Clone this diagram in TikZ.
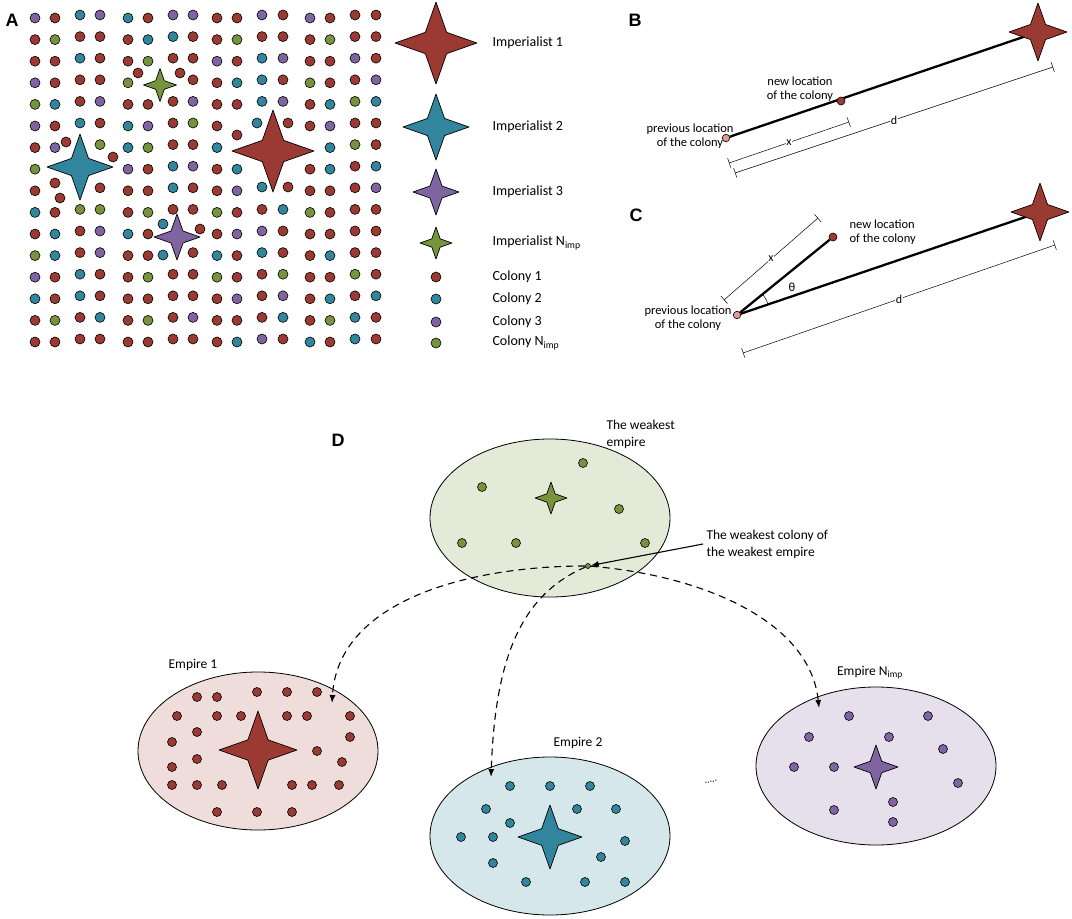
\documentclass[tikz,border=0pt]{standalone}
\usepackage{fontspec}
\setmainfont{Carlito}
\newfontfamily\panelfont{Liberation Sans}
\usetikzlibrary{arrows.meta,shapes.geometric}

\definecolor{colR}{RGB}{155,58,50}
\definecolor{colT}{RGB}{49,133,156}
\definecolor{colP}{RGB}{128,100,162}
\definecolor{colG}{RGB}{119,147,60}
\definecolor{colprev}{RGB}{228,154,148}
\definecolor{fillR}{RGB}{238,221,219}
\definecolor{fillT}{RGB}{214,231,236}
\definecolor{fillP}{RGB}{229,224,236}
\definecolor{fillG}{RGB}{227,235,216}

% four-pointed star: centre x, centre y, half size, colour
\newcommand{\impstar}[4]{%
  \filldraw[fill=#4, draw=black, line width=0.7pt, line join=round, shift={(#1,#2)}]
    (#3,0) .. controls (0.6*#3,0.14*#3) .. (0.26*#3,0.26*#3)
    .. controls (0.14*#3,0.6*#3) .. (0,#3)
    .. controls (-0.14*#3,0.6*#3) .. (-0.26*#3,0.26*#3)
    .. controls (-0.6*#3,0.14*#3) .. (-#3,0)
    .. controls (-0.6*#3,-0.14*#3) .. (-0.26*#3,-0.26*#3)
    .. controls (-0.14*#3,-0.6*#3) .. (0,-#3)
    .. controls (0.14*#3,-0.6*#3) .. (0.26*#3,-0.26*#3)
    .. controls (0.6*#3,-0.14*#3) .. cycle;}
% colony dot: [radius] x, y, colour
\newcommand{\colony}[4][5]{\filldraw[fill=#4, draw=black, line width=0.6pt] (#2,#3) circle (#1);}

\tikzset{
  lbl/.style={font=\fontsize{14}{17}\selectfont, anchor=west},
  note/.style={font=\fontsize{12.5}{14.5}\selectfont, align=center},
  dnote/.style={font=\fontsize{13.5}{17}\selectfont, align=left},
  panel/.style={font=\panelfont\bfseries\fontsize{18}{20}\selectfont},
  track/.style={line width=2.3pt},
  dim/.style={line width=0.5pt, {Bar[width=10pt]}-{Bar[width=10pt]}},
  dimlbl/.style={fill=white, inner sep=0.6pt, font=\fontsize{12}{13}\selectfont},
  move/.style={dash pattern=on 7pt off 5pt, line width=1.1pt, -{Latex[length=8pt,width=6pt]}},
  empire/.style={ellipse, draw, line width=0.8pt, minimum width=240pt, minimum height=158pt, inner sep=0},
  spot/.style={circle, draw, line width=0.6pt, inner sep=0, minimum size=8pt}
}

\begin{document}
\begin{tikzpicture}[x=1pt, y=-1pt]
  \useasboundingbox (0,0) rectangle (1072,919);

  % panel A
  \node[panel] (pa) at (12,20) {A};
  \foreach \row [count=\j] in {
    {P,R,T,P,T,R,P,P,R,R,P,R,P,R,R,R},
    {R,G,R,R,R,T,T,R,R,G,R,R,R,G,R,R},
    {R,R,T,R,R,G,R,R,P,R,T,P,R,R,P,R},
    {P,R,R,R,G,-,-,R,R,T,T,R,G,R,R,P},
    {G,T,R,P,R,R,R,P,R,R,T,P,R,T,G,T},
    {P,R,T,R,T,P,R,G,R,-,-,-,R,P,R,R},
    {R,P,-,G,T,G,R,R,T,-,-,-,-,T,G,R},
    {G,-,-,-,P,R,T,P,R,T,-,-,R,T,R,T},
    {R,-,-,R,R,R,T,R,R,P,-,-,R,R,R,P},
    {T,R,G,G,R,G,R,R,G,R,R,T,G,R,R,R},
    {R,T,R,P,T,R,-,-,R,P,P,R,R,R,R,R},
    {G,T,R,P,R,R,-,R,T,R,T,R,R,T,R,R},
    {P,R,T,R,R,G,R,R,G,R,R,G,R,R,G,R},
    {T,R,T,R,R,R,R,R,R,P,R,P,R,T,R,T},
    {R,G,R,T,R,G,R,P,R,R,R,T,R,G,T,R},
    {R,R,R,R,R,R,R,R,R,T,P,R,T,R,T,R}}
    \foreach \c [count=\i] in \row {
      \pgfmathsetmacro{\xx}{{35,55,80,100,128,148,173,193,217,237,262,283,310,330,355,376}[\i-1]}
      \pgfmathsetmacro{\yy}{18+21.6*(\j-1)-3*mod(floor((\i-1)/2),2)}
      \if\c-\else\colony{\xx}{\yy}{col\c}\fi
    };
  \foreach \x/\y/\c in {138/73/R, 180/73/R, 237/135/R, 257/123/T, 288/123/R,
      66/142/R, 113/157/R, 55/183/R, 60/198/R, 262/187/T, 288/187/R,
      163/224/T, 200/229/R, 163/255/T}
    \colony{\x}{\y}{col\c};
  \impstar{273}{151}{41}{colR}
  \impstar{80}{167}{33}{colT}
  \impstar{160}{85}{16.5}{colG}
  \impstar{177}{237}{23}{colP}

  % legend
  \impstar{436}{43}{41}{colR}
  \impstar{436}{127}{33}{colT}
  \impstar{436}{192}{23}{colP}
  \impstar{436}{243}{16}{colG}
  \colony{436}{277}{colR}
  \colony{436}{299}{colT}
  \colony{436}{322}{colP}
  \colony{436}{343}{colG}
  \node[lbl] (leg1) at (489,43) {Imperialist 1};
  \node[lbl] (leg2) at (489,127) {Imperialist 2};
  \node[lbl] (leg3) at (489,192) {Imperialist 3};
  \node[lbl] (leg4) at (489,243) {Imperialist N\textsubscript{imp}};
  \node[lbl] (leg5) at (489,277) {Colony 1};
  \node[lbl] (leg6) at (489,299) {Colony 2};
  \node[lbl] (leg7) at (489,322) {Colony 3};
  \node[lbl] (leg8) at (489,343) {Colony N\textsubscript{imp}};

  % panel B
  \node[panel] (pb) at (635,20) {B};
  \coordinate (bstar) at (1038,32);
  \node[spot, fill=colprev, minimum size=7.5pt] (bprev) at (726,138) {};
  \draw[track] (bprev) -- (bstar);
  \impstar{1038}{32}{29}{colR}
  \node[spot, fill=colR] (bnew) at (841,101) {};
  \node[note] (bnewlbl) at (800,89) {new location\\of the colony};
  \node[note] (bprevlbl) at (690,136) {previous location\\of the colony};
  \coordinate (bx1) at (729,163);
  \coordinate (bx2) at (849,122);
  \coordinate (bd1) at (735,173);
  \coordinate (bd2) at (1053,67);
  \draw[dim] (bx1) -- node[dimlbl] {x} (bx2);
  \draw[dim] (bd1) -- node[dimlbl] {d} (bd2);

  % panel C
  \node[panel] (pc) at (636,215) {C};
  \coordinate (cstar) at (1040,212);
  \node[spot, fill=colprev, minimum size=7.5pt] (cprev) at (737,315) {};
  \node[spot, fill=colR] (cnew) at (833,237) {};
  \draw[track] (cprev) -- (cstar);
  \draw[track] (cprev) -- (cnew);
  \impstar{1040}{212}{29}{colR}
  \draw[line width=0.5pt] (cprev.center) ++(18.8:33pt) arc[start angle=18.8, end angle=39.1, radius=33pt];
  \node[note] (theta) at (792,287) {θ};
  \node[note, align=left, anchor=west] (cnewlbl) at (846,232) {new location\\of the colony};
  \node[note] (cprevlbl) at (688,318) {previous location\\of the colony};
  \coordinate (cx1) at (724,300);
  \coordinate (cx2) at (818,218);
  \coordinate (cd1) at (743,353);
  \coordinate (cd2) at (1055,245);
  \draw[dim] (cx1) -- node[dimlbl] {x} (cx2);
  \draw[dim] (cd1) -- node[dimlbl] {d} (cd2);

  % panel D
  \node[panel] (pd) at (338,440) {D};
  \node[empire, fill=fillG] (weak) at (550,518) {};
  \node[empire, fill=fillR] (emp1) at (258,751) {};
  \node[empire, fill=fillT] (emp2) at (550,836) {};
  \node[empire, fill=fillP] (empn) at (876,766) {};

  \foreach \x/\y in {583/463, 482/487, 619/509, 462/543, 516/543, 645/543}
    \colony[4.5]{\x}{\y}{colG};
  \impstar{551}{498}{16}{colG}

  \foreach \x/\y in {197/697, 217/697, 257/692, 287/692, 317/692,
      177/716, 217/716, 241/716, 287/716, 307/716, 350/716,
      197/732, 350/737, 172/742, 317/751, 197/759, 342/762, 172/767,
      172/785, 197/785, 222/785, 292/785, 312/785, 339/785,
      217/812, 257/812, 292/812}
    \colony[4.5]{\x}{\y}{colR};
  \impstar{258}{750}{39}{colR}

  \foreach \x/\y in {510/786, 550/786, 590/786, 486/809, 577/809, 616/809,
      510/823, 461/837, 493/837, 625/841, 601/857, 493/863,
      526/882, 585/882, 625/882}
    \colony[4.5]{\x}{\y}{colT};
  \impstar{550}{837}{32}{colT}

  \foreach \x/\y in {849/716, 928/716, 809/737, 889/737, 943/749,
      794/767, 834/767, 958/783, 893/802, 834/810, 893/822}
    \colony[4.5]{\x}{\y}{colP};
  \impstar{876}{767}{22}{colP}

  \node[dnote] (weaklbl) at (603,434) [anchor=west] {The weakest\\empire};
  \node[dnote] (emp1lbl) at (193,665) {Empire 1};
  \node[dnote] (emp2lbl) at (578,743) {Empire 2};
  \node[dnote] (empnlbl) at (870,673) {Empire N\textsubscript{imp}};
  \node[font=\fontsize{10}{10}\selectfont, rotate=12] (etc) at (711,782) {.....};

  \node[spot, fill=colG, minimum size=5pt] (wc) at (588,566) {};
  \node[dnote] (wclbl) at (703,544) [anchor=west] {The weakest colony of\\the weakest empire};
  \draw[line width=1.1pt, -{Latex[length=8pt,width=6pt]}] (wclbl.west) -- (wc);

  \coordinate (e1in) at (332,703);
  \coordinate (e2in) at (491,777);
  \coordinate (enin) at (819,708);
  \draw[move] (wc) .. controls (470,566) and (338,600) .. (e1in);
  \draw[move] (wc) .. controls (520,595) and (495,660) .. (e2in);
  \draw[move] (wc) .. controls (700,575) and (810,620) .. (enin);
\end{tikzpicture}
\end{document}
